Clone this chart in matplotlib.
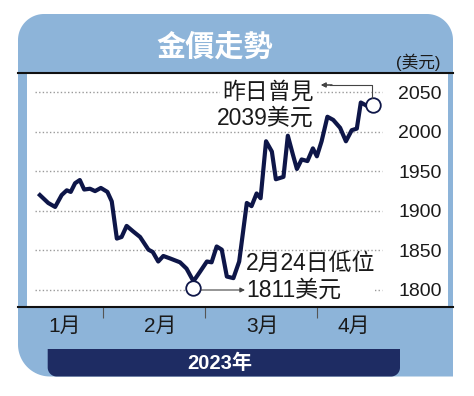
import numpy as np
import matplotlib
matplotlib.use("Agg")
import matplotlib.pyplot as plt
from matplotlib.patches import Polygon, Rectangle
from matplotlib.lines import Line2D
from matplotlib.transforms import ScaledTranslation

# ---------------- data ----------------
# x: day of year 2023 (Jan 1 = 0), y: gold price (USD/oz)
days = [13.6, 15.9, 17.8, 19.6, 21.0, 22.1, 23.3, 24.6, 25.8, 27.4, 28.8, 30.4,
        32.2, 33.4, 34.8, 36.1, 37.5, 39.3, 41.2, 43.5, 44.7, 46.2, 47.6, 49.4,
        52.2, 54.0, 55.9, 57.7, 59.6, 60.9, 62.3, 63.7, 65.1, 66.9, 68.5, 70.6,
        71.9, 73.3, 74.4, 75.9, 77.5, 78.6, 80.7, 81.9, 83.3, 84.4, 85.7, 87.3,
        88.8, 89.9, 91.2, 92.8, 94.4, 96.3, 97.9, 99.5, 100.9, 102.0, 103.2]
prices = [1920, 1910, 1905, 1920, 1926, 1924, 1935, 1939, 1927, 1928, 1925, 1929,
          1924, 1912, 1865, 1867, 1881, 1874, 1867, 1851, 1848, 1836, 1843, 1840,
          1835, 1827, 1811, 1823, 1836, 1835, 1855, 1851, 1817, 1815, 1836, 1910,
          1906, 1922, 1916, 1988, 1975, 1940, 1943, 1995, 1971, 1953, 1965, 1963,
          1979, 1969, 1988, 2019, 2015, 2005, 1988, 2002, 2004, 2037, 2034]
yticks = [1800, 1850, 1900, 1950, 2000, 2050]
month_bounds = [31, 59, 90]
month_label_pos = [20.5, 46.7, 74.8, 100.1]
month_labels = ["1月", "2月", "3月", "4月"]
low_idx = 26
high_idx = len(prices) - 1

title = "金價走勢"
unit = "(美元)"
year_label = "2023年"
high_text = ["昨日曾見", "2039美元"]
low_text = ["2月24日低位", "1811美元"]

# ---------------- style ----------------
W, H = 474, 396
PANEL = "#8db4d9"
NAVY_BAR = "#1e2c63"
LINE = "#0e1648"
CJK = ["Liberation Sans", "Noto Sans CJK TC", "DejaVu Sans"]
plt.rcParams["font.family"] = CJK

fig = plt.figure(figsize=(W / 100, H / 100), dpi=100)
fig.patch.set_facecolor("white")


def fx(x):
    return x / W


def fy(y):
    return 1 - y / H


def rounded(x0, y0, x1, y1, r_tl, r_tr, r_br, r_bl, **kw):
    pts = []

    def arc(cx, cy, r, a0, a1):
        if r == 0:
            return [(cx, cy)]
        t = np.radians(np.linspace(a0, a1, 24))
        return list(zip(cx + r * np.cos(t), cy + r * np.sin(t)))

    pts += arc(x0 + r_tl, y0 + r_tl, r_tl, 180, 270)
    pts += arc(x1 - r_tr, y0 + r_tr, r_tr, 270, 360)
    pts += arc(x1 - r_br, y1 - r_br, r_br, 0, 90)
    pts += arc(x0 + r_bl, y1 - r_bl, r_bl, 90, 180)
    pts = [(fx(a), fy(b)) for a, b in pts]
    return Polygon(pts, closed=True, transform=fig.transFigure, **kw)


fig.add_artist(rounded(18, 14, 453, 376.5, 26, 26, 0, 32, fc=PANEL, ec="none", zorder=-3))
fig.add_artist(rounded(47.7, 349, 400, 376.5, 0, 0, 9, 9, fc=NAVY_BAR, ec="none", zorder=-2))

# axes = white plot area
ax_l, ax_r, ax_t, ax_b = 26.7, 448.3, 73, 307
ax = fig.add_axes([fx(ax_l), fy(ax_b), fx(ax_r) - fx(ax_l), fy(ax_t) - fy(ax_b)])
ax.set_facecolor("white")
for s in ax.spines.values():
    s.set_visible(False)
ax.set_xlim(9.97, 126.1)
ax.set_ylim(1778.5, 2074.3)

# dotted grid lines
ax.hlines(yticks, 12.3, 107.9, colors="#9a9a9a", linestyles=(0, (1, 1.6)), lw=1.0, zorder=1)

# y tick labels inside on the right
ax.set_yticks(yticks)
ax.set_yticklabels([str(v) for v in yticks])
ax.tick_params(axis="y", left=False, right=False, labelleft=False, labelright=True,
               pad=-39.5, labelsize=14, labelcolor="#1a1a1a")

# x ticks: month boundaries (marks) and month labels (minor)
ax.set_xticks(month_bounds)
ax.set_xticklabels([""] * len(month_bounds))
ax.set_xticks(month_label_pos, minor=True)
ax.set_xticklabels(month_labels, minor=True)
ax.tick_params(axis="x", which="major", direction="out", length=8, width=0.8, color="#555555")
ax.tick_params(axis="x", which="minor", length=0, pad=7, labelsize=15, labelcolor="#1a1a1a")

# white mask breaking the 1800 grid line behind the low annotation
mask_x0, mask_x1 = 186, 375
ax.add_patch(Rectangle(((mask_x0 - ax_l) / (ax_r - ax_l), (ax_b - 296) / (ax_b - ax_t)),
                       (mask_x1 - mask_x0) / (ax_r - ax_l), 12 / (ax_b - ax_t),
                       transform=ax.transAxes, fc="white", ec="none", zorder=1.5))

# price line
ax.plot(days, prices, color=LINE, lw=3.0, solid_joinstyle="round", zorder=3)

# circles around low / high points (offset slightly from the point)
low_tr = ax.transData + ScaledTranslation(0, -0.066, fig.dpi_scale_trans)
ax.plot([days[low_idx]], [prices[low_idx]], marker="o", ms=10.5, mfc="white", mec=LINE,
        mew=1.3, transform=low_tr, zorder=4, clip_on=False)
high_tr = ax.transData + ScaledTranslation(0.08, 0.0, fig.dpi_scale_trans)
ax.plot([days[high_idx]], [prices[high_idx]], marker="o", ms=10.5, mfc="white", mec=LINE,
        mew=1.3, transform=high_tr, zorder=4, clip_on=False)

# black horizontal rules
for yy in (ax_t, ax_b):
    fig.add_artist(Line2D([fx(18), fx(453)], [fy(yy), fy(yy)], transform=fig.transFigure,
                          color="#111111", lw=1.5, zorder=5))

# arrows
ARROW_C = "#444444"
fig.add_artist(Line2D([fx(372), fx(372), fx(330)], [fy(98), fy(85), fy(85)],
                      transform=fig.transFigure, color=ARROW_C, lw=0.8, zorder=5))
fig.add_artist(plt.annotate("", xy=(fx(321), fy(85)), xytext=(fx(332), fy(85)),
                            xycoords="figure fraction", textcoords="figure fraction",
                            arrowprops=dict(arrowstyle="-|>", color=ARROW_C, lw=0.8,
                                            mutation_scale=7, shrinkA=0, shrinkB=0)))
ax.annotate("", xy=(fx(245), fy(290)), xytext=(fx(201), fy(290)),
            xycoords="figure fraction", textcoords="figure fraction",
            arrowprops=dict(arrowstyle="-|>", color=ARROW_C, lw=0.8,
                            mutation_scale=7, shrinkA=0, shrinkB=0), zorder=5)

# texts
TXT = "#1a1a1a"
fig.text(fx(215), fy(47), title, ha="center", va="center", color="white",
         fontsize=21, fontweight="bold")
fig.text(fx(418), fy(62.5), unit, ha="center", va="center", color=TXT, fontsize=12)
fig.text(fx(220), fy(363.5), year_label, ha="center", va="center", color="white",
         fontsize=14.5, fontweight="bold")

fig.text(fx(314), fy(92), high_text[0], ha="right", va="center", color=TXT, fontsize=16.5,
         bbox=dict(fc="white", ec="none", pad=1.5), zorder=6)
fig.text(fx(314), fy(118.5), high_text[1], ha="right", va="center", color=TXT, fontsize=16.5,
         zorder=6)
fig.text(fx(246), fy(263), low_text[0], ha="left", va="center", color=TXT, fontsize=16.5,
         zorder=6)
fig.text(fx(246), fy(290), low_text[1], ha="left", va="center", color=TXT, fontsize=16.5,
         zorder=6)

fig.savefig("out.png", dpi=100, facecolor="white")
